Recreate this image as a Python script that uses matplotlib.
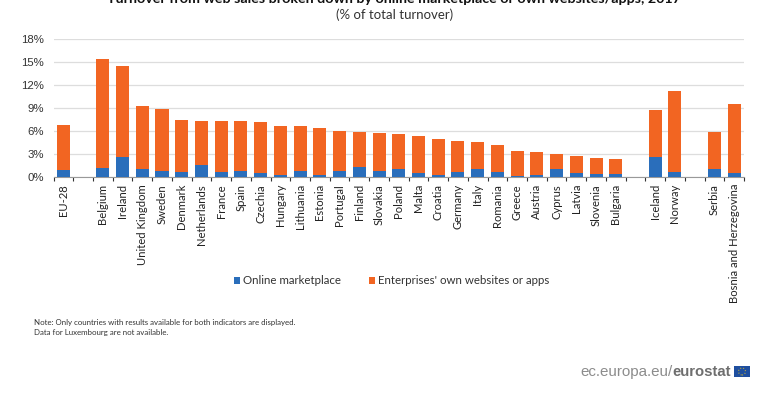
import matplotlib
matplotlib.use("Agg")
from matplotlib import pyplot as plt
from matplotlib.patches import Rectangle, Ellipse
import numpy as np

countries = ["EU-28", "", "Belgium", "Ireland", "United Kingdom", "Sweden", "Denmark", "Netherlands",
             "France", "Spain", "Czechia", "Hungary", "Lithuania", "Estonia", "Portugal", "Finland",
             "Slovakia", "Poland", "Malta", "Croatia", "Germany", "Italy", "Romania", "Greece",
             "Austria", "Cyprus", "Latvia", "Slovenia", "Bulgaria", "", "Iceland", "Norway", "",
             "Serbia", "Bosnia and Herzegovina"]
online = [0.9, 0, 1.15, 2.6, 1.0, 0.8, 0.6, 1.6, 0.6, 0.75, 0.5, 0.2, 0.8, 0.3, 0.8, 1.25,
          0.75, 1.0, 0.55, 0.25, 0.7, 1.0, 0.7, 0.15, 0.25, 1.0, 0.55, 0.4, 0.35, 0, 2.6, 0.7, 0,
          1.0, 0.55]
own = [5.9, 0, 14.25, 11.9, 8.3, 8.1, 6.8, 5.7, 6.7, 6.55, 6.7, 6.5, 5.8, 6.1, 5.2, 4.65,
       4.95, 4.6, 4.85, 4.65, 4.05, 3.6, 3.5, 3.25, 3.05, 2.0, 2.25, 2.05, 2.05, 0, 6.2, 10.5, 0,
       4.9, 8.95]
yticks = [0, 3, 6, 9, 12, 15, 18]

plt.rcParams["font.family"] = ["Lato", "DejaVu Sans"]

blue = "#2a6ebb"
orange = "#f26522"
W, H = 768, 394

fig = plt.figure(figsize=(W / 100, H / 100), dpi=100)
ax = fig.add_axes([53.5 / W, 1 - 177 / H, (744 - 53.5) / W, 138 / H])

x = np.arange(len(countries))
ax.bar(x, online, width=0.66, color=blue, label="Online marketplace", zorder=3)
ax.bar(x, own, width=0.66, bottom=online, color=orange, label="Enterprises' own websites or apps", zorder=3)

ax.set_xlim(-0.5, len(countries) - 0.5)
ax.set_ylim(0, 18)
ax.set_yticks(yticks)
ax.set_yticklabels([f"{v}%" for v in yticks], fontsize=8.2, color="#333333", family="Liberation Sans")
ax.grid(axis="y", color="#dddddd", lw=0.9, zorder=0)
ax.tick_params(axis="y", length=0, pad=7)

ax.set_xticks(x)
ax.set_xticklabels(countries, rotation=90, fontsize=8.1, color="#222222")
ax.tick_params(axis="x", which="major", length=0, pad=5)
ax.set_xticks(np.arange(-0.5, len(countries)), minor=True)
ax.tick_params(axis="x", which="minor", length=3, width=0.8, color="#333333")

for s in ["top", "right", "left"]:
    ax.spines[s].set_visible(False)
ax.spines["bottom"].set_color("#999999")

fig.text(394 / W, 1 + 1 / H, "Turnover from web sales broken down by online marketplace or own websites/apps, 2017",
         ha="center", va="center", fontsize=10.25, fontweight="bold", color="#111111")
fig.text(395 / W, 1 - 15 / H, "(% of total turnover)", ha="center", va="center", fontsize=9.5, color="#333333")

fig.legend(loc="center", bbox_to_anchor=(391.5 / W, 1 - 281 / H), ncol=2, frameon=False, fontsize=8.3,
           handlelength=0.52, handleheight=0.52, handletextpad=0.28, columnspacing=2.43, labelcolor="#333333")

fig.text(34 / W, 1 - 322.5 / H, "Note: Only countries with results available for both indicators are displayed.",
         ha="left", va="center", fontsize=5.7, color="#333333")
fig.text(34 / W, 1 - 333 / H, "Data for Luxembourg are not available.",
         ha="left", va="center", fontsize=5.7, color="#333333")

# eurostat logo
fig.text(580 / W, 1 - 372 / H, "ec.europa.eu/", ha="left", va="center", fontsize=10.9,
         color="#8c8c8c", family="Liberation Sans")
fig.text(672 / W, 1 - 372 / H, "eurostat", ha="left", va="center", fontsize=10.7, fontweight="bold",
         color="#6e6e6e", family="Liberation Sans")
fig.add_artist(Rectangle((734 / W, 1 - 377 / H), 16 / W, 11 / H, transform=fig.transFigure,
                         facecolor="#1f4f9f", edgecolor="none"))
fig.add_artist(Ellipse((742 / W, 1 - 371.5 / H), 7 / W, 7 / H, transform=fig.transFigure,
                       fill=False, edgecolor="#b5a642", lw=0.8, ls=":"))

fig.savefig("out.png", dpi=100)
